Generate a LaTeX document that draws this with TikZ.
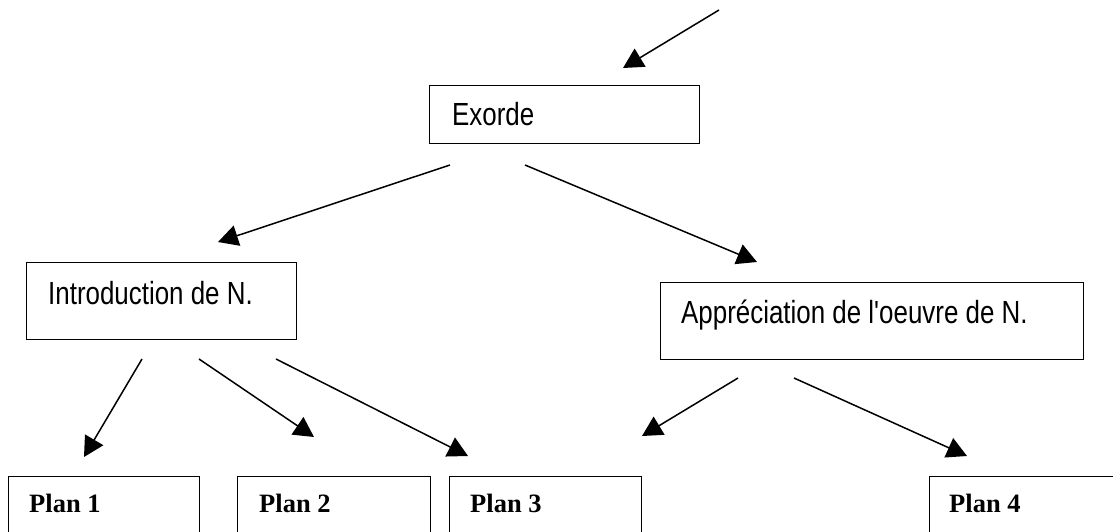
\documentclass[tikz,border=0pt]{standalone}
\usepackage{fontspec}
\newfontfamily\narrowfont[FakeStretch=0.81]{Liberation Sans}
\newfontfamily\planfont{Liberation Serif}
\usetikzlibrary{arrows.meta}
\begin{document}
\begin{tikzpicture}[x=1pt,y=-1pt,
  box/.style={draw,line width=1.4pt,rectangle,inner sep=0pt,anchor=north west},
  lbl/.style={anchor=base west,inner sep=0pt,font=\narrowfont\fontsize{32}{36}\selectfont},
  plbl/.style={anchor=base west,inner sep=0pt,font=\planfont\bfseries\fontsize{26.5}{30}\selectfont},
  arr/.style={line width=1.5pt,-{Triangle[length=20pt,width=21pt]}}]
\fill[white] (0,0) rectangle (1113,531);
\clip (0,0) rectangle (1113,531);
% boxes
\node[box,minimum width=270pt,minimum height=58pt] (exorde) at (429,85) {};
\node[box,minimum width=270pt,minimum height=77pt] (intro) at (26,262) {};
\node[box,minimum width=423pt,minimum height=77pt] (appr) at (660,282) {};
\node[box,minimum width=191pt,minimum height=90pt] (plan1) at (8,476) {};
\node[box,minimum width=193pt,minimum height=90pt] (plan2) at (237,476) {};
\node[box,minimum width=192pt,minimum height=90pt] (plan3) at (449,476) {};
\node[box,minimum width=220pt,minimum height=90pt] (plan4) at (929,476) {};
% texts
\node[lbl] (exordeT) at (452,125) {Exorde};
\node[lbl] (introT) at (48,304) {Introduction de N.};
\node[lbl] (apprT) at (681,323) {Appréciation de l'oeuvre de N.};
\node[plbl] (plan1T) at (29,512) {Plan 1};
\node[plbl] (plan2T) at (259,512) {Plan 2};
\node[plbl] (plan3T) at (470,512) {Plan 3};
\node[plbl] (plan4T) at (949,512) {Plan 4};
% connector ends
\coordinate (topS) at (719,10);
\coordinate (topE) at (623,68);
\coordinate (exL) at (450,165);
\coordinate (exLE) at (218,242);
\coordinate (exR) at (525,165);
\coordinate (exRE) at (757,262);
\coordinate (in1) at (142,359);
\coordinate (in1E) at (84,457);
\coordinate (in2) at (199,359);
\coordinate (in2E) at (314,437);
\coordinate (in3) at (276,359);
\coordinate (in3E) at (468,456);
\coordinate (ap1) at (738,378);
\coordinate (ap1E) at (642,436);
\coordinate (ap2) at (794,378);
\coordinate (ap2E) at (967,456);
% connectors
\draw[arr] (topS) -- (topE);
\draw[arr] (exL) -- (exLE);
\draw[arr] (exR) -- (exRE);
\draw[arr] (in1) -- (in1E);
\draw[arr] (in2) -- (in2E);
\draw[arr] (in3) -- (in3E);
\draw[arr] (ap1) -- (ap1E);
\draw[arr] (ap2) -- (ap2E);
\end{tikzpicture}
\end{document}
